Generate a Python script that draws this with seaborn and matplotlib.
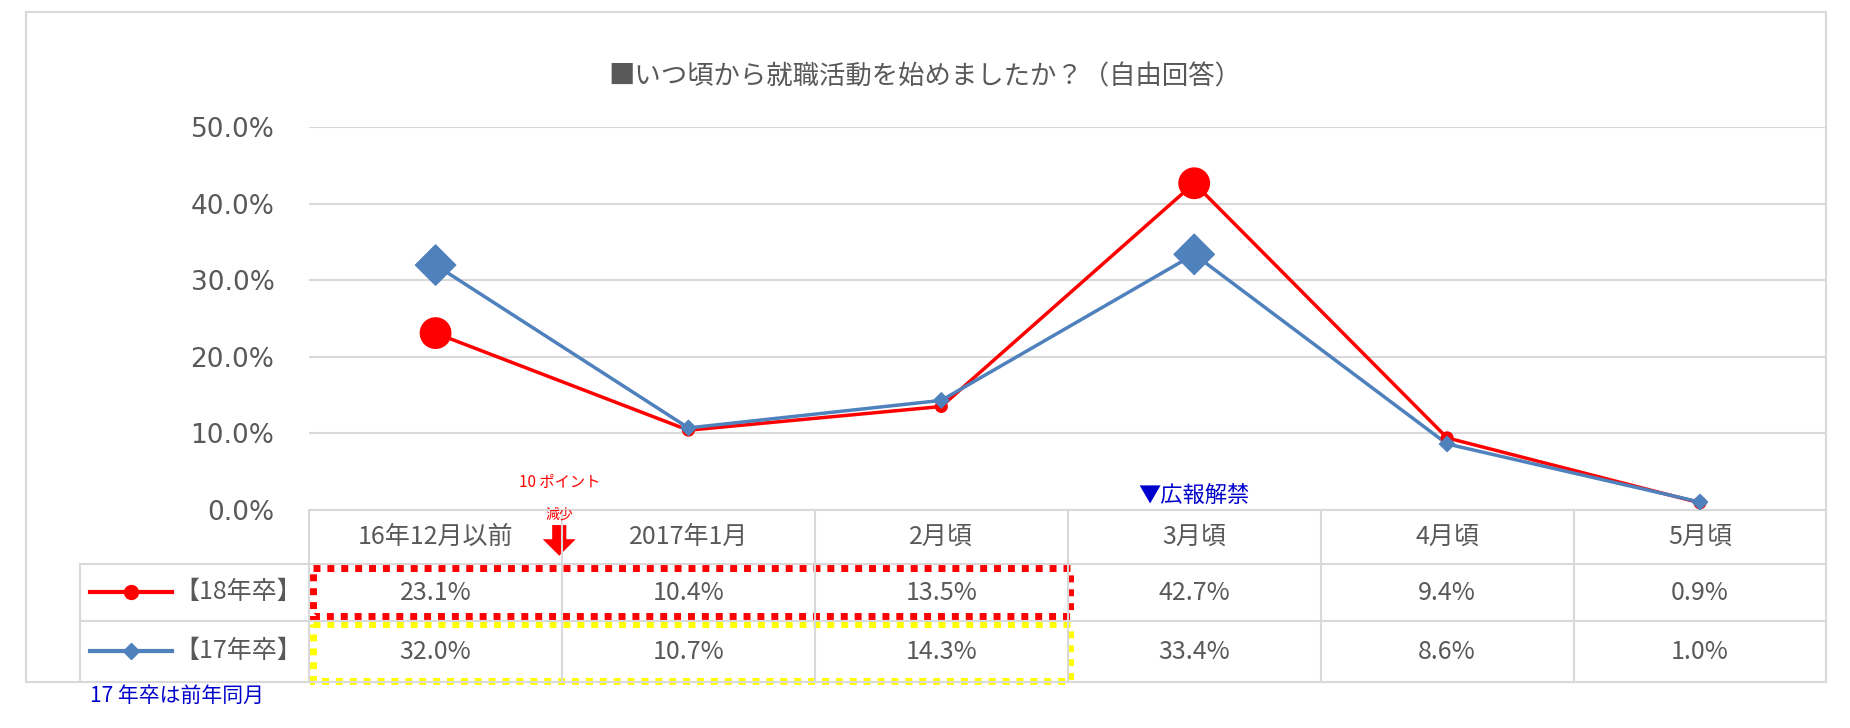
import matplotlib
matplotlib.use("Agg")
import matplotlib.pyplot as plt
import seaborn as sns
import pandas as pd
from matplotlib.patches import Rectangle, FancyArrow

plt.rcParams["font.family"] = "Noto Sans CJK JP"

categories = ["16年12月以前", "2017年1月", "2月頃", "3月頃", "4月頃", "5月頃"]
grad18 = [23.1, 10.4, 13.5, 42.7, 9.4, 0.9]
grad17 = [32.0, 10.7, 14.3, 33.4, 8.6, 1.0]
series_names = ["【18年卒】", "【17年卒】"]
yticks = [0, 10, 20, 30, 40, 50]

RED = "#ff0000"
BLUE = "#4f81bd"
GRID = "#d9d9d9"
TXT = "#595959"

fig = plt.figure(figsize=(18.5, 7.28), dpi=100)
W, H = 1568, 617
def fx(x): return x / W
def fy(y): return 1 - y / H

# background axes for table, border, annotations
bg = fig.add_axes([0, 0, 1, 1])
bg.set_xlim(0, W); bg.set_ylim(H, 0); bg.axis("off")
bg.add_patch(Rectangle((22, 10), 1526, 568, fill=False, ec=GRID, lw=1.5))

left, right, top, bottom = 262, 1548, 108, 432
ax = fig.add_axes([fx(left), fy(bottom), fx(right - left), fy(top) - fy(bottom)])
df = pd.DataFrame({"x": list(range(6)) * 2, "v": grad18 + grad17,
                   "s": [series_names[0]] * 6 + [series_names[1]] * 6})
sns.lineplot(data=df, x="x", y="v", hue="s", palette=[RED, BLUE], lw=2.5,
             legend=False, ax=ax, zorder=3)
big = [1, 0, 0, 1, 0, 0]
ax.scatter(range(6), grad18, s=[480 if b else 70 for b in big], c=RED, marker="o", zorder=4)
ax.scatter(range(6), grad17, s=[420 if b else 60 for b in big], c=BLUE, marker="D", zorder=5)
ax.set_xlim(-0.5, 5.5); ax.set_ylim(0, 50)
ax.set_yticks(yticks)
ax.set_yticklabels([f"{t:.1f}%" for t in yticks], fontsize=19, color=TXT, family="DejaVu Sans")
ax.set_xticks([])
ax.grid(axis="y", color=GRID, lw=1.5)
ax.set_axisbelow(True)
for s in ax.spines.values():
    s.set_visible(False)
ax.tick_params(length=0, pad=25)
ax.set_xlabel(""); ax.set_ylabel("")
ax.patch.set_alpha(0)

fig.text(0.5, fy(65), "■いつ頃から就職活動を始めましたか？（自由回答）", ha="center",
         va="center", fontsize=19, color=TXT)

# table
colw = (right - left) / 6
rows = [432, 478, 526, 578]
for y in rows:
    x0 = left if y == 432 else 68
    bg.plot([x0, right], [y, y], color=GRID, lw=1.5)
for i in range(7):
    bg.plot([left + i * colw] * 2, [432, 578], color=GRID, lw=1.5)
bg.plot([68, 68], [478, 578], color=GRID, lw=1.5)
for i, c in enumerate(categories):
    cx = left + (i + 0.5) * colw
    bg.text(cx, 455, c, ha="center", va="center", fontsize=18, color=TXT)
    bg.text(cx, 503, f"{grad18[i]:.1f}%", ha="center", va="center", fontsize=18, color=TXT)
    bg.text(cx, 553, f"{grad17[i]:.1f}%", ha="center", va="center", fontsize=18, color=TXT)
for ry, col, mk, ms, name in [(502, RED, "o", 10, series_names[0]), (552, BLUE, "D", 8, series_names[1])]:
    bg.plot([76, 146], [ry, ry], color=col, lw=3)
    bg.plot([111], [ry], marker=mk, color=col, ms=ms)
    bg.text(148, ry, name, ha="left", va="center", fontsize=18, color=TXT)

bg.add_patch(Rectangle((265, 481), 642, 41, fill=False, ec=RED, lw=5, ls=(0, (1, 1))))
bg.add_patch(Rectangle((265, 529), 642, 48, fill=False, ec="#ffff00", lw=5, ls=(0, (1, 1))))

bg.add_patch(FancyArrow(474, 445, 0, 26, width=12, head_width=28, head_length=14,
                        length_includes_head=True, color=RED, lw=0))
bg.text(474, 409, "10 ポイント", ha="center", va="center", fontsize=11, color=RED)
bg.text(474, 436, "減少", ha="center", va="center", fontsize=10, color=RED)
bg.text(1012, 420, "▼広報解禁", ha="center", va="center", fontsize=16, color="#0000cc")
bg.text(150, 590, "17 年卒は前年同月", ha="center", va="center", fontsize=15, color="#0000cc")

fig.savefig("out.png", dpi=100)
